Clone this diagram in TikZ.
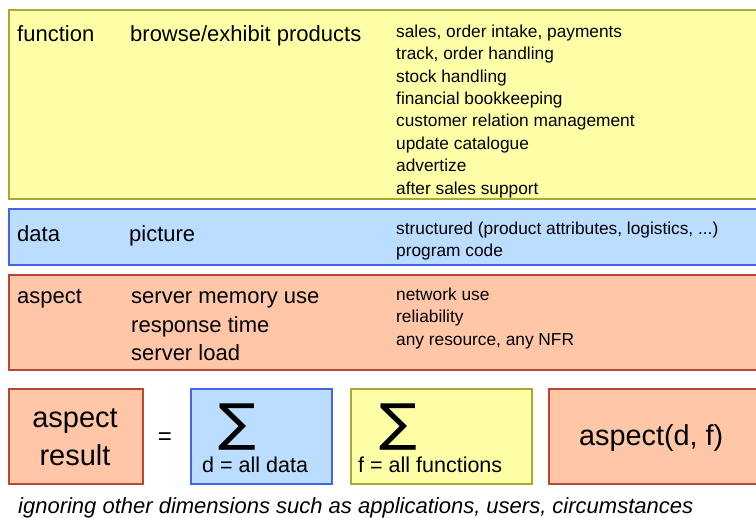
\documentclass[tikz,border=0pt]{standalone}
\usepackage{fontspec}
\usepackage{graphicx}
\setmainfont{Liberation Sans}
\newfontfamily\symfont{DejaVu Sans}
\definecolor{fnfill}{RGB}{255,255,168}
\definecolor{fnline}{RGB}{170,170,50}
\definecolor{dtfill}{RGB}{187,221,255}
\definecolor{dtline}{RGB}{70,100,235}
\definecolor{asfill}{RGB}{255,198,168}
\definecolor{asline}{RGB}{185,70,55}
\tikzset{
  band/.style={line width=1.2pt},
  fnband/.style={band, draw=fnline, fill=fnfill},
  dtband/.style={band, draw=dtline, fill=dtfill},
  asband/.style={band, draw=asline, fill=asfill},
  big/.style={anchor=base west, inner sep=0pt, font=\fontsize{22}{26}\selectfont},
  small/.style={anchor=base west, inner sep=0pt, font=\fontsize{17.3}{21}\selectfont},
  sumsign/.style={anchor=center, inner sep=0pt, font=\symfont\fontsize{51}{56}\selectfont},
  under/.style={anchor=base west, inner sep=0pt, font=\fontsize{21.5}{25}\selectfont},
  huge/.style={anchor=base, inner sep=0pt, font=\fontsize{29}{37}\selectfont},
}
\newcommand{\bigsum}{\scalebox{1.1}[1]{∑}}
\begin{document}
\begin{tikzpicture}[x=1pt,y=-1pt]
\useasboundingbox (0,0) rectangle (756,518);
\clip (0,0) rectangle (756,518);

% three classification bands
\draw[fnband] (9,10) rectangle (770,199);
\draw[dtband] (9,209) rectangle (770,265);
\draw[asband] (9,275) rectangle (770,370);

% function band
\node[big] (fnhead) at (17,41.5) {function};
\node[big] (fnmain) at (130,41.5) {browse/exhibit products};
\foreach \t [count=\i] in {{sales, order intake, payments},{track, order handling},
  {stock handling},{financial bookkeeping},{customer relation management},
  {update catalogue},{advertize},{after sales support}}
  \node[small] (fn\i) at (396,{37.3+(\i-1)*22.4}) {\t};

% data band
\node[big] (dthead) at (17,241.5) {data};
\node[big] (dtmain) at (129,241.5) {picture};
\node[small] (dt1) at (396,234.5) {structured (product attributes, logistics, ...)};
\node[small] (dt2) at (396,256.5) {program code};

% aspect band
\node[big] (ashead) at (17,304) {aspect};
\node[big] (as1) at (131,304) {server memory use};
\node[big] (as2) at (131,332.5) {response time};
\node[big] (as3) at (131,361) {server load};
\node[small] (asr1) at (396,300.5) {network use};
\node[small] (asr2) at (396,323) {reliability};
\node[small] (asr3) at (396,345.5) {any resource, any NFR};

% formula row
\draw[asband] (9,389) rectangle (143,484);
\draw[dtband] (191,389) rectangle (332,484);
\draw[fnband] (351,389) rectangle (532,484);
\draw[asband] (549,389) rectangle (770,484);

\node[huge] (res1) at (75,428) {aspect};
\node[huge] (res2) at (75,465.5) {result};
\node[anchor=base, inner sep=0pt, font=\fontsize{24}{28}\selectfont] (eq) at (165,445) {=};
\node[sumsign] (sumd) at (237.5,427.5) {\bigsum};
\node[under] (subd) at (202,472.5) {d = all data};
\node[sumsign] (sumf) at (398,427.5) {\bigsum};
\node[under] (subf) at (358,472.5) {f = all functions};
\node[anchor=base west, inner sep=0pt, font=\fontsize{28.8}{34}\selectfont] (fx) at (579,446) {aspect(d, f)};

\node[anchor=base west, inner sep=0pt, font=\fontsize{22}{26}\selectfont\itshape] (note) at (18,514)
  {ignoring other dimensions such as applications, users, circumstances};
\end{tikzpicture}
\end{document}
